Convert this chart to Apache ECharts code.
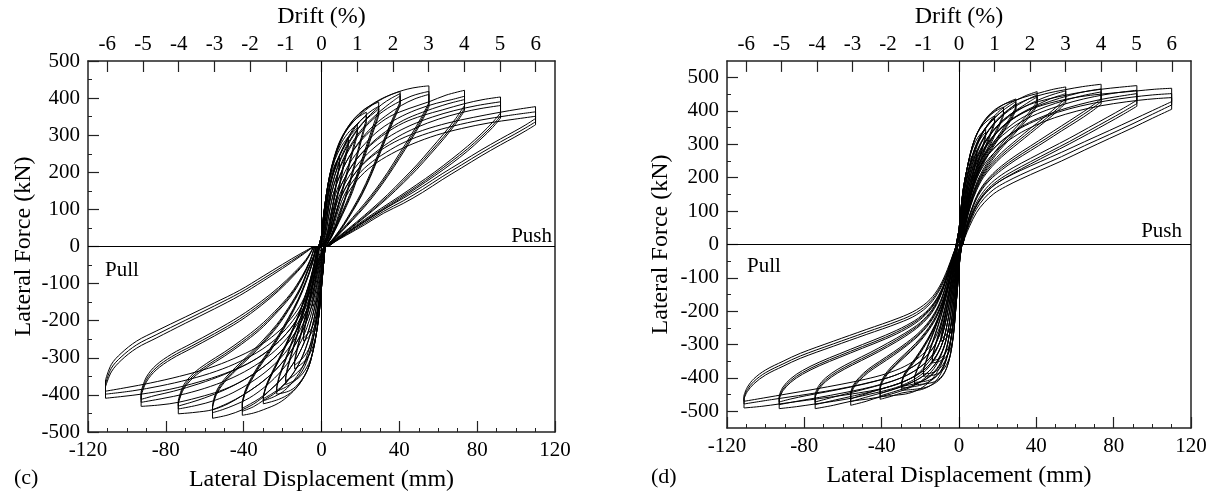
<!DOCTYPE html>
<html>
<head>
<meta charset="utf-8">
<title>Hysteresis (c) and (d)</title>
<script src="https://cdn.jsdelivr.net/npm/echarts@6.0.0/dist/echarts.min.js"></script>
<style>
  html, body { margin: 0; padding: 0; background: #fff; }
  #chart { width: 1215px; height: 497px; }
</style>
</head>
<body>
<div id="chart"></div>
<script>
// drift tick labels on the top axes (%), and mm per 1 % drift
var driftTicks = [-6, -5, -4, -3, -2, -1, 0, 1, 2, 3, 4, 5, 6];
var mmPerDrift = 18.35;
var dForceTicks = [-500, -400, -300, -200, -100, 0, 100, 200, 300, 400, 500];
var dForceMinor = [-450, -350, -250, -150, -50, 50, 150, 250, 350, 450];

// each level: list of cycles, cycle = [loading branch, unloading branch] as [mm, kN]
// ---- panel (c), push ----
var cPush025 = [
  [[[-2,-10],[0,30],[1,70],[2.2,112],[3.4,142],[4.6,155]], [[4.6,142],[3.6,106],[2.6,66],[1.6,30],[0.6,0]]]
];
var cPush05 = [
  [[[-2,-10],[0,30],[1,75],[2.5,135],[4.5,185],[7,222],[9.2,240]], [[9.2,222],[7.8,180],[6,120],[4.2,65],[2.5,25],[1,0]]],
  [[[-2,-10],[0.2,30],[1.3,75],[3,135],[5,180],[7.3,213],[9.2,230]], [[9.2,214],[7.8,172],[6,113],[4.2,60],[2.5,22],[1,0]]]
];
var cPush075 = [
  [[[-2,-10],[0,30],[1,80],[2.5,140],[4.5,190],[7,235],[10,268],[13.8,296]], [[13.8,278],[12,240],[10,190],[8,135],[6,85],[4,40],[2,8],[1,0]]],
  [[[-2,-10],[0.3,30],[1.5,80],[3.2,140],[5.3,188],[8,230],[11,262],[13.8,286]], [[13.8,268],[12,230],[10,180],[8,127],[6,79],[4,36],[2,6],[1,0]]]
];
var cPush1 = [
  [[[-2,-10],[0,30],[1,80],[2.5,140],[4.2,190],[6.5,232],[9.5,272],[13.5,305],[18.4,330]], [[18.4,310],[16,262],[13.5,210],[11,160],[8.5,110],[6,65],[3.5,25],[1.5,0]]],
  [[[-2,-10],[0.4,30],[1.6,80],[3.3,140],[5.3,188],[8,232],[11.5,270],[15,300],[18.4,320]], [[18.4,300],[16,253],[13.5,202],[11,153],[8.5,104],[6,61],[3.5,22],[1.5,0]]]
];
var cPush125 = [
  [[[-2,-10],[0,30],[1,80],[2.5,140],[4.2,190],[6.5,235],[9.5,278],[13,315],[18,345],[23,362]], [[23,342],[20.5,295],[18,245],[15,185],[12,130],[9,82],[6,42],[3,10],[1.5,0]]],
  [[[-2,-10],[0.5,30],[1.8,80],[3.5,140],[5.5,188],[8.5,235],[12,277],[16,315],[19.5,337],[23,352]], [[23,333],[20.5,286],[18,236],[15,177],[12,124],[9,77],[6,39],[3,8],[1.5,0]]]
];
var cPush16 = [
  [[[-2,-10],[0,30],[1,80],[2.5,140],[4.2,192],[6.5,240],[9.5,283],[13,318],[17,346],[22,370],[26,382],[29.4,389]], [[29.4,368],[26.5,325],[23,270],[19.5,215],[16,160],[12.5,115],[9,72],[5.5,32],[2.5,5],[1.5,0]]],
  [[[-2,-10],[0.5,30],[1.8,80],[3.6,140],[5.8,190],[9,240],[13,285],[17.5,322],[22,350],[26,367],[29.4,378]], [[29.4,358],[26.5,315],[23,262],[19.5,208],[16,154],[12.5,110],[9,69],[5.5,30],[2.5,4],[1.5,0]]],
  [[[-2,-10],[0.8,30],[2.3,80],[4.3,140],[6.8,190],[10,236],[14.5,282],[19,318],[23.5,345],[27,360],[29.4,371]], [[29.4,352],[26.5,308],[23,255],[19.5,201],[16,148],[12.5,105],[9,66],[5.5,28],[2.5,3],[1.5,0]]]
];
var cPush22 = [
  [[[-2,-10],[0,30],[1,80],[2.5,140],[4.2,192],[6.5,240],[9.5,285],[14,325],[19,355],[25,380],[30,396],[35,408],[40.4,418]], [[40.4,390],[37,350],[33,300],[29,248],[25,196],[20.5,145],[16,102],[11.5,62],[7,28],[3,4],[2,0]]],
  [[[-2,-10],[0.8,30],[2.2,80],[4.2,140],[6.8,192],[10,240],[14,282],[19,320],[25,355],[31,383],[36,400],[40.4,412]], [[40.4,384],[37,344],[33,294],[29,242],[25,190],[20.5,140],[16,98],[11.5,59],[7,26],[3,3],[2,0]]],
  [[[-2,-10],[1.2,30],[2.8,80],[5,140],[8,192],[11.5,240],[16,282],[21,318],[27,350],[33,377],[37,393],[40.4,406]], [[40.4,380],[37,339],[33,289],[29,237],[25,186],[20.5,136],[16,95],[11.5,57],[7,25],[3,2],[2,0]]]
];
var cPush3 = [
  [[[-2,-10],[0,30],[1,80],[2.5,140],[4.3,192],[6.8,242],[10,287],[15,328],[21,360],[28,388],[36,410],[44,424],[50,430],[55.2,433]], [[55.2,388],[51,345],[46,300],[40,250],[34,200],[28,155],[22,115],[16,78],[10,42],[5,12],[2.5,0]]],
  [[[-2,-10],[1.2,30],[2.8,80],[5,140],[8,192],[12,240],[17,285],[23,325],[30,358],[38,385],[46,405],[51,413],[55.2,418]], [[55.2,382],[51,338],[46,293],[40,243],[34,194],[28,150],[22,110],[16,74],[10,40],[5,11],[2.5,0]]],
  [[[-2,-10],[1.8,30],[3.6,80],[6,140],[9.5,192],[14,240],[19.5,283],[26,322],[33,352],[41,380],[48,398],[55.2,410]], [[55.2,376],[51,332],[46,287],[40,237],[34,189],[28,145],[22,106],[16,71],[10,38],[5,10],[2.5,0]]]
];
var cPush4 = [
  [[[-2,-10],[1.8,30],[3.6,80],[6,140],[9.5,192],[14,240],[20,283],[27,320],[35,350],[45,372],[55.2,390],[64,408],[73.5,421]], [[73.5,380],[69,345],[63,305],[56,262],[49,220],[42,182],[34,140],[26,102],[18,66],[10,32],[4,6],[3,0]]],
  [[[-2,-10],[2.4,30],[4.4,80],[7.2,140],[11,190],[16,237],[22.5,278],[30,315],[39,345],[49,369],[59,386],[67,396],[73.5,405]], [[73.5,372],[69,337],[63,297],[56,255],[49,214],[42,176],[34,135],[26,98],[18,63],[10,30],[4,5],[3,0]]],
  [[[-2,-10],[3,30],[5.2,80],[8.2,140],[12.5,190],[18,235],[25,275],[33,310],[42,340],[52,362],[62,380],[68,389],[73.5,396]], [[73.5,366],[69,331],[63,291],[56,249],[49,208],[42,171],[34,131],[26,95],[18,61],[10,29],[4,5],[3,0]]]
];
var cPush5 = [
  [[[-2,-10],[3,30],[5.2,80],[8.2,140],[12.5,190],[18,235],[25,272],[33,305],[42,333],[52,353],[62,368],[73.5,385],[83,396],[92,403]], [[92,360],[88,335],[82,303],[75,270],[67,236],[58,200],[49,167],[40,135],[31,104],[22,72],[14,42],[7,15],[3.5,0]]],
  [[[-2,-10],[3.6,30],[6,80],[9.4,140],[14,188],[20,230],[27.5,268],[36,300],[46,327],[57,349],[68,366],[80,380],[92,390]], [[92,352],[88,327],[82,296],[75,263],[67,230],[58,195],[49,162],[40,131],[31,100],[22,69],[14,40],[7,14],[3.5,0]]],
  [[[-2,-10],[4.2,30],[6.8,80],[10.5,138],[15.5,185],[22,227],[30,263],[39,295],[49,321],[60,343],[72,361],[82,372],[92,380]], [[92,346],[88,321],[82,290],[75,257],[67,224],[58,190],[49,158],[40,127],[31,97],[22,67],[14,39],[7,13],[3.5,0]]]
];
var cPush6 = [
  [[[-2,-10],[4.2,30],[6.8,80],[10.5,138],[15.5,185],[22,225],[30,258],[40,288],[52,313],[65,333],[78,348],[92,362],[101,370],[110,377]], [[110,345],[105,328],[99,310],[92,290],[82,260],[72,228],[62,196],[52,162],[42,130],[32,100],[22,66],[13,36],[6,12],[3.5,0]]],
  [[[-2,-10],[4.8,30],[7.6,80],[11.5,136],[17,182],[24,220],[33,253],[43,282],[55,306],[68,325],[82,341],[96,353],[110,363]], [[110,336],[105,320],[99,302],[92,282],[82,252],[72,220],[62,188],[52,154],[42,123],[32,95],[22,62],[13,33],[6,11],[3.5,0]]],
  [[[-2,-10],[5.4,30],[8.4,80],[12.5,134],[18.5,180],[26,217],[36,250],[47,277],[59,300],[72,318],[86,333],[99,343],[110,351]], [[110,328],[105,312],[99,294],[92,274],[82,244],[72,212],[62,180],[52,146],[42,116],[32,90],[22,58],[13,31],[6,10],[3.5,0]]]
];

// ---- panel (c), pull ----
var cPull025 = [
  [[[2,10],[1,-50],[0,-100],[-1.5,-135],[-3,-152],[-4.6,-160]], [[-4.6,-150],[-3.8,-115],[-2.8,-75],[-1.6,-35],[0,0]]]
];
var cPull05 = [
  [[[2,10],[1,-50],[0,-110],[-1.5,-170],[-3.5,-215],[-6,-240],[-9.2,-255]], [[-9.2,-240],[-8,-205],[-6.5,-165],[-4.8,-115],[-3,-62],[-1,0]]],
  [[[2,10],[1,-50],[-0.3,-110],[-2,-165],[-4,-208],[-6.5,-232],[-9.2,-246]], [[-9.2,-234],[-8,-200],[-6.5,-160],[-4.8,-111],[-3,-59],[-1,0]]]
];
var cPull075 = [
  [[[2,10],[1,-50],[0,-110],[-1,-170],[-2.5,-230],[-5,-278],[-8.5,-308],[-13.8,-330]], [[-13.8,-312],[-12.5,-280],[-10.5,-238],[-8,-185],[-5.5,-125],[-3.5,-70],[-1,0]]],
  [[[2,10],[1,-50],[-0.3,-110],[-1.6,-168],[-3.3,-225],[-6,-270],[-9.5,-300],[-13.8,-320]], [[-13.8,-306],[-12.5,-274],[-10.5,-232],[-8,-180],[-5.5,-121],[-3.5,-67],[-1,0]]]
];
var cPull1 = [
  [[[2,10],[1,-50],[0,-110],[-1,-170],[-2.5,-230],[-4.5,-285],[-7.5,-325],[-12,-355],[-18.4,-372]], [[-18.4,-355],[-17,-322],[-15,-285],[-12.5,-240],[-9.5,-185],[-6.5,-125],[-4,-65],[-1.5,0]]],
  [[[2,10],[1,-50],[-0.4,-110],[-1.7,-168],[-3.4,-226],[-5.6,-278],[-9,-318],[-13.5,-345],[-18.4,-362]], [[-18.4,-349],[-17,-316],[-15,-279],[-12.5,-235],[-9.5,-180],[-6.5,-121],[-4,-62],[-1.5,0]]]
];
var cPull125 = [
  [[[2,10],[1,-50],[0,-110],[-1,-170],[-2.5,-230],[-4.5,-285],[-7,-330],[-11,-365],[-16,-388],[-23,-398]], [[-23,-382],[-21.5,-350],[-19,-315],[-16,-272],[-12.5,-222],[-9,-165],[-6,-105],[-3.5,-50],[-1.5,0]]],
  [[[2,10],[1,-50],[-0.4,-110],[-1.7,-168],[-3.4,-226],[-5.8,-280],[-8.6,-323],[-13,-358],[-18,-378],[-23,-390]], [[-23,-377],[-21.5,-345],[-19,-310],[-16,-267],[-12.5,-218],[-9,-161],[-6,-102],[-3.5,-48],[-1.5,0]]]
];
var cPull16 = [
  [[[2,10],[1,-50],[0,-110],[-1,-170],[-2.5,-230],[-4.5,-285],[-7,-330],[-11,-368],[-16,-395],[-22,-412],[-29.9,-424]], [[-29.9,-404],[-28.5,-375],[-26,-345],[-22.5,-308],[-18.5,-265],[-14.5,-218],[-10.5,-165],[-7,-110],[-4.5,-62],[-2,0]]],
  [[[2,10],[1,-50],[-0.5,-110],[-2,-168],[-4,-226],[-6.5,-278],[-9.5,-322],[-14,-360],[-19,-388],[-24,-404],[-29.9,-416]], [[-29.9,-406],[-28.5,-378],[-26,-348],[-22.5,-311],[-18.5,-268],[-14.5,-221],[-10.5,-168],[-7,-112],[-4.5,-64],[-2,0]]],
  [[[2,10],[0.8,-50],[-1,-110],[-2.8,-166],[-5,-222],[-8,-272],[-11.5,-315],[-16,-352],[-21,-380],[-25.5,-397],[-29.9,-410]], [[-29.9,-404],[-28.5,-380],[-26,-351],[-22.5,-314],[-18.5,-271],[-14.5,-224],[-10.5,-170],[-7,-114],[-4.5,-65],[-2,0]]]
];
var cPull22 = [
  [[[2,10],[1,-50],[0,-110],[-1,-170],[-2.5,-230],[-4.5,-285],[-7,-330],[-11,-368],[-16,-398],[-22,-422],[-29.9,-440],[-35,-449],[-40.7,-455]], [[-40.7,-418],[-39,-385],[-36,-353],[-32,-318],[-27,-280],[-22,-238],[-17,-192],[-12,-142],[-8,-92],[-5,-48],[-2.5,0]]],
  [[[2,10],[0.7,-50],[-1,-110],[-2.8,-168],[-5.2,-225],[-8.2,-276],[-12,-320],[-17,-360],[-23,-392],[-29.9,-415],[-35,-432],[-40.7,-444]], [[-40.7,-421],[-39,-389],[-36,-357],[-32,-322],[-27,-284],[-22,-242],[-17,-196],[-12,-145],[-8,-95],[-5,-50],[-2.5,0]]],
  [[[2,10],[0.4,-50],[-1.5,-110],[-3.6,-166],[-6.4,-222],[-10,-272],[-14.5,-315],[-20,-354],[-26,-385],[-32,-410],[-36.5,-424],[-40.7,-436]], [[-40.7,-424],[-39,-393],[-36,-361],[-32,-326],[-27,-288],[-22,-246],[-17,-200],[-12,-148],[-8,-97],[-5,-52],[-2.5,0]]]
];
var cPull3 = [
  [[[2,10],[0.4,-50],[-1.5,-110],[-3.6,-166],[-6.4,-222],[-10,-272],[-14.5,-315],[-20,-354],[-26,-385],[-33,-418],[-40.7,-440],[-48,-454],[-56,-463]], [[-56,-427],[-54,-390],[-50,-358],[-44,-325],[-37,-290],[-30,-252],[-23,-210],[-17,-165],[-11,-112],[-7,-62],[-4,-25],[-3,0]]],
  [[[2,10],[0,-50],[-2,-110],[-4.4,-165],[-7.5,-218],[-11.5,-266],[-16.5,-308],[-22.5,-346],[-29.5,-380],[-37,-408],[-45,-428],[-51,-440],[-56,-448]], [[-56,-431],[-54,-395],[-50,-363],[-44,-330],[-37,-295],[-30,-257],[-23,-214],[-17,-169],[-11,-115],[-7,-64],[-4,-26],[-3,0]]],
  [[[2,10],[-0.4,-50],[-2.6,-110],[-5.2,-163],[-8.6,-214],[-13,-260],[-18.5,-302],[-25,-340],[-32.5,-373],[-40.5,-401],[-48,-422],[-56,-440]], [[-56,-434],[-54,-399],[-50,-367],[-44,-334],[-37,-299],[-30,-261],[-23,-218],[-17,-172],[-11,-118],[-7,-66],[-4,-27],[-3,0]]]
];
var cPull4 = [
  [[[2,10],[-0.4,-50],[-2.6,-110],[-5.2,-163],[-8.6,-214],[-13,-260],[-18.5,-302],[-25,-340],[-32.5,-373],[-40.5,-401],[-48,-424],[-56,-440],[-65,-447],[-73.6,-451]], [[-73.6,-415],[-71,-375],[-66,-343],[-59,-315],[-50,-285],[-41,-252],[-32,-215],[-24,-175],[-16,-128],[-10,-80],[-6,-38],[-3.5,0]]],
  [[[2,10],[-0.8,-50],[-3.2,-110],[-6,-162],[-9.8,-212],[-14.6,-257],[-20.6,-298],[-28,-335],[-36.5,-367],[-45.5,-394],[-55,-415],[-64,-428],[-73.6,-438]], [[-73.6,-420],[-71,-381],[-66,-349],[-59,-321],[-50,-291],[-41,-258],[-32,-221],[-24,-180],[-16,-132],[-10,-83],[-6,-40],[-3.5,0]]],
  [[[2,10],[-1.2,-50],[-3.8,-110],[-6.8,-160],[-11,-209],[-16.2,-253],[-22.8,-293],[-31,-329],[-40,-360],[-50,-387],[-60,-408],[-67,-420],[-73.6,-430]], [[-73.6,-424],[-71,-386],[-66,-354],[-59,-326],[-50,-296],[-41,-263],[-32,-226],[-24,-184],[-16,-136],[-10,-86],[-6,-42],[-3.5,0]]]
];
var cPull5 = [
  [[[2,10],[-1.2,-50],[-3.8,-110],[-6.8,-160],[-11,-209],[-16.2,-253],[-22.8,-293],[-31,-329],[-40,-360],[-50,-385],[-60,-402],[-73.6,-420],[-83,-427],[-92.7,-431]], [[-92.7,-391],[-90,-352],[-85,-320],[-77,-290],[-67,-262],[-55,-228],[-42,-188],[-31,-148],[-22,-110],[-14,-70],[-8,-35],[-4,0]]],
  [[[2,10],[-1.6,-50],[-4.4,-108],[-7.6,-158],[-12.2,-206],[-18,-249],[-25.5,-288],[-34.5,-322],[-45,-352],[-57,-377],[-70,-397],[-82,-410],[-92.7,-420]], [[-92.7,-397],[-90,-359],[-85,-327],[-77,-297],[-67,-269],[-55,-235],[-42,-195],[-31,-154],[-22,-115],[-14,-74],[-8,-38],[-4,0]]],
  [[[2,10],[-2,-50],[-5,-106],[-8.4,-156],[-13.4,-203],[-19.8,-245],[-28,-283],[-38,-316],[-50,-345],[-63,-370],[-76,-390],[-85,-401],[-92.7,-412]], [[-92.7,-402],[-90,-365],[-85,-333],[-77,-303],[-67,-275],[-55,-241],[-42,-201],[-31,-159],[-22,-119],[-14,-77],[-8,-40],[-4,0]]]
];
var cPull6 = [
  [[[2,10],[-2,-50],[-5,-106],[-8.4,-156],[-13.4,-203],[-19.8,-245],[-28,-283],[-38,-316],[-50,-343],[-63,-365],[-78,-385],[-92.7,-398],[-102,-404],[-111,-409]], [[-111,-360],[-108,-318],[-103,-288],[-95,-255],[-85,-228],[-70,-190],[-55,-152],[-42,-118],[-30,-80],[-20,-48],[-11,-20],[-4,0]]],
  [[[2,10],[-2.4,-50],[-5.6,-104],[-9.2,-153],[-14.6,-199],[-21.6,-240],[-30.5,-277],[-41.5,-309],[-54,-336],[-68,-358],[-83,-376],[-97,-389],[-111,-398]], [[-111,-370],[-108,-328],[-103,-298],[-95,-265],[-85,-238],[-70,-199],[-55,-160],[-42,-125],[-30,-87],[-20,-54],[-11,-24],[-4,0]]],
  [[[2,10],[-2.8,-50],[-6.2,-102],[-10,-150],[-15.8,-195],[-23.4,-235],[-33,-271],[-45,-302],[-58,-328],[-73,-350],[-88,-368],[-100,-380],[-111,-390]], [[-111,-378],[-108,-338],[-103,-307],[-95,-274],[-85,-247],[-70,-207],[-55,-168],[-42,-132],[-30,-93],[-20,-59],[-11,-27],[-4,0]]]
];

// ---- panel (d), push ----
var dPush025 = [
  [[[-2,-16],[0,45],[1,100],[2,140],[3.2,162],[4.6,172]], [[4.6,160],[3.8,125],[2.8,85],[1.8,45],[0.8,10],[0.5,0]]]
];
var dPush05 = [
  [[[-2,-16],[0,45],[1,105],[2.2,165],[4,222],[6,258],[9.2,282]], [[9.2,268],[8,235],[6.5,192],[5,145],[3.5,95],[2,42],[0.8,0]]],
  [[[-2,-16],[0.3,45],[1.4,105],[2.7,162],[4.6,215],[6.6,250],[9.2,272]], [[9.2,260],[8,228],[6.5,186],[5,140],[3.5,91],[2,40],[0.8,0]]]
];
var dPush075 = [
  [[[-2,-16],[0,45],[1,105],[2.2,165],[4,222],[6,270],[8.5,308],[11,330],[13.8,345]], [[13.8,330],[12.5,300],[10.5,262],[8.5,218],[6.3,165],[4.3,110],[2.5,55],[1,0]]],
  [[[-2,-16],[0.3,45],[1.4,105],[2.7,163],[4.6,218],[6.8,263],[9.3,300],[11.7,322],[13.8,336]], [[13.8,322],[12.5,293],[10.5,256],[8.5,212],[6.3,160],[4.3,106],[2.5,52],[1,0]]]
];
var dPush1 = [
  [[[-2,-16],[0,45],[1,105],[2.2,165],[4,222],[6,275],[8.3,318],[11,348],[14.5,370],[18.4,385]], [[18.4,368],[17,345],[15,315],[12.5,275],[10,235],[7.5,185],[5.2,130],[3.2,70],[1.5,15],[1,0]]],
  [[[-2,-16],[0.3,45],[1.4,105],[2.8,163],[4.8,218],[7,268],[9.5,308],[12.5,340],[15.5,362],[18.4,376]], [[18.4,361],[17,338],[15,308],[12.5,268],[10,229],[7.5,180],[5.2,126],[3.2,67],[1.5,14],[1,0]]]
];
var dPush125 = [
  [[[-2,-16],[0,45],[1,105],[2.2,165],[4,222],[6,275],[8.3,318],[11,350],[14.5,378],[18.5,398],[23,412]], [[23,392],[21.5,370],[19.5,345],[17,315],[14,280],[11,240],[8.5,200],[6,150],[4,100],[2,40],[1,0]]],
  [[[-2,-16],[0.3,45],[1.4,105],[2.8,163],[4.8,218],[7,268],[9.8,310],[13,343],[16.5,370],[20,388],[23,402]], [[23,385],[21.5,363],[19.5,338],[17,308],[14,273],[11,234],[8.5,194],[6,145],[4,96],[2,38],[1,0]]]
];
var dPush16 = [
  [[[-2,-16],[0,45],[1,105],[2.2,165],[4,222],[6,275],[8.3,318],[11,350],[14.5,378],[20,408],[25,425],[29.4,436]], [[29.4,412],[27.5,390],[25,367],[22,340],[18.5,310],[15,278],[12,245],[9,205],[6.5,160],[4.2,108],[2.3,50],[1,0]]],
  [[[-2,-16],[0.4,45],[1.5,105],[2.9,163],[5,218],[7.3,268],[10,310],[13.5,345],[17.5,373],[22,398],[26,415],[29.4,428]], [[29.4,406],[27.5,384],[25,361],[22,334],[18.5,304],[15,272],[12,239],[9,200],[6.5,156],[4.2,105],[2.3,48],[1,0]]],
  [[[-2,-16],[0.7,45],[1.9,105],[3.5,162],[5.7,215],[8.2,264],[11.2,305],[15,340],[19.5,370],[24,395],[27,410],[29.4,422]], [[29.4,402],[27.5,379],[25,356],[22,329],[18.5,299],[15,267],[12,234],[9,195],[6.5,152],[4.2,102],[2.3,46],[1,0]]]
];
var dPush22 = [
  [[[-2,-16],[0,45],[1,105],[2.2,165],[4,222],[6,275],[8.3,318],[11,352],[14.5,382],[19,406],[24,422],[29.4,432],[35,447],[40.4,458]], [[40.4,428],[37.5,405],[34,380],[30,354],[25.5,325],[21,295],[17,265],[13,230],[9.5,190],[6.5,142],[4,88],[2,30],[1,0]]],
  [[[-2,-16],[0.7,45],[1.9,105],[3.5,162],[5.7,215],[8.2,264],[11.5,305],[15.5,342],[20.5,375],[26,402],[31,420],[36,436],[40.4,448]], [[40.4,420],[37.5,397],[34,372],[30,346],[25.5,317],[21,288],[17,258],[13,224],[9.5,185],[6.5,138],[4,85],[2,29],[1,0]]],
  [[[-2,-16],[1,45],[2.3,105],[4,160],[6.3,212],[9,260],[12.5,300],[17,337],[22,368],[28,396],[33,415],[37,430],[40.4,442]], [[40.4,415],[37.5,391],[34,366],[30,340],[25.5,311],[21,282],[17,252],[13,219],[9.5,181],[6.5,135],[4,83],[2,28],[1,0]]]
];
var dPush3 = [
  [[[-2,-16],[0.7,45],[1.9,105],[3.5,164],[5.5,220],[8,272],[11,318],[15,360],[20,395],[26,422],[33,440],[40.4,452],[48,464],[55.2,472]], [[55.2,438],[51,415],[46,390],[40,362],[34,334],[28,305],[22,275],[17,245],[12.5,210],[9,170],[6,122],[3.5,65],[1.5,0]]],
  [[[-2,-16],[1,45],[2.3,105],[4,160],[6.3,212],[9.2,260],[13,302],[17.5,338],[23,370],[29.5,398],[37,422],[44,440],[50,452],[55.2,460]], [[55.2,430],[51,407],[46,382],[40,354],[34,326],[28,298],[22,268],[17,239],[12.5,205],[9,165],[6,118],[3.5,62],[1.5,0]]],
  [[[-2,-16],[1.3,45],[2.7,105],[4.6,158],[7,210],[10,257],[14,298],[19,334],[25,366],[32,393],[40,417],[47,436],[52,446],[55.2,452]], [[55.2,424],[51,400],[46,375],[40,347],[34,319],[28,291],[22,262],[17,233],[12.5,200],[9,161],[6,115],[3.5,60],[1.5,0]]]
];
var dPush4 = [
  [[[-2,-16],[1,45],[2.3,105],[4,163],[6.3,217],[9,268],[12.5,315],[17,356],[22.5,390],[29,417],[36.5,437],[45,452],[55.2,464],[64,473],[73.5,480]], [[73.5,436],[68,412],[61,385],[53,355],[45,325],[37,295],[29,265],[22,235],[16,203],[11,165],[7.5,122],[4.5,70],[2.5,25],[1.5,0]]],
  [[[-2,-16],[1.3,45],[2.7,105],[4.6,158],[7,210],[10.2,257],[14.5,298],[19.5,334],[25.5,366],[33,394],[42,418],[52,438],[62,454],[68,461],[73.5,466]], [[73.5,428],[68,404],[61,377],[53,347],[45,317],[37,288],[29,258],[22,229],[16,198],[11,161],[7.5,119],[4.5,68],[2.5,24],[1.5,0]]],
  [[[-2,-16],[1.6,45],[3.1,105],[5.2,156],[7.8,207],[11.2,253],[16,294],[21.5,330],[28,362],[36,390],[45,413],[55,432],[64,446],[73.5,457]], [[73.5,420],[68,396],[61,369],[53,340],[45,310],[37,281],[29,252],[22,223],[16,193],[11,157],[7.5,116],[4.5,66],[2.5,23],[1.5,0]]]
];
var dPush5 = [
  [[[-2,-16],[1.3,45],[2.7,105],[4.6,162],[7,215],[10,265],[14,310],[19,350],[25,383],[32,408],[41,428],[51,442],[62,455],[73.5,465],[83,471],[92,476]], [[92,432],[85,408],[77,382],[67,350],[57,318],[47,288],[37,258],[28,230],[20,200],[14,168],[9.5,130],[6,85],[3.5,40],[2,0]]],
  [[[-2,-16],[1.6,45],[3.1,105],[5.2,156],[7.8,207],[11.4,252],[16.5,292],[22.5,327],[29.5,358],[38,385],[48,408],[59,428],[70,443],[81,454],[92,462]], [[92,422],[85,398],[77,372],[67,340],[57,308],[47,278],[37,248],[28,220],[20,191],[14,160],[9.5,123],[6,80],[3.5,37],[2,0]]],
  [[[-2,-16],[1.9,45],[3.5,105],[5.8,154],[8.6,204],[12.5,248],[18,288],[24.5,322],[32,352],[41,378],[51,400],[62,419],[73,434],[83,444],[92,452]], [[92,414],[85,390],[77,364],[67,332],[57,301],[47,271],[37,241],[28,213],[20,185],[14,155],[9.5,119],[6,77],[3.5,35],[2,0]]]
];
var dPush6 = [
  [[[-2,-16],[1.6,45],[3.1,105],[5.2,160],[7.8,212],[11,260],[15.5,305],[21,345],[28,377],[36,402],[46,422],[57,437],[68,447],[80,454],[92,460],[101,465],[110,468]], [[110,428],[100,401],[90,374],[78,342],[65,308],[53,276],[42,248],[32,222],[24,199],[18,177],[13,150],[9,116],[5.5,70],[3,28],[2,0]]],
  [[[-2,-16],[1.9,45],[3.5,105],[5.8,154],[8.6,204],[12.5,248],[18,287],[24.5,320],[32,349],[41,374],[51,396],[63,415],[76,430],[89,441],[100,448],[110,452]], [[110,418],[100,390],[90,362],[78,330],[65,296],[53,263],[42,235],[32,209],[24,186],[18,165],[13,138],[9,106],[5.5,63],[3,24],[2,0]]],
  [[[-2,-16],[2.2,45],[3.9,105],[6.4,152],[9.4,201],[13.6,244],[19.5,282],[26.5,315],[34.5,343],[44,368],[55,390],[67,408],[80,422],[93,432],[102,437],[110,440]], [[110,405],[100,378],[90,350],[78,318],[65,283],[53,250],[42,222],[32,196],[24,173],[18,152],[13,125],[9,95],[5.5,55],[3,20],[2,0]]]
];

// ---- panel (d), pull ----
var dPull025 = [
  [[[2,16],[0.5,-40],[-0.5,-100],[-1.6,-145],[-3,-168],[-4.6,-175]], [[-4.6,-165],[-3.8,-130],[-2.8,-90],[-1.8,-50],[-0.8,-12],[-0.3,0]]]
];
var dPull05 = [
  [[[2,16],[0.5,-40],[-0.5,-110],[-1.5,-180],[-3,-240],[-5.5,-275],[-9.2,-290]], [[-9.2,-277],[-8,-245],[-6.5,-200],[-5,-150],[-3.4,-95],[-1.8,-40],[-0.5,0]]],
  [[[2,16],[0.3,-40],[-0.8,-108],[-2,-175],[-3.6,-232],[-6,-266],[-9.2,-282]], [[-9.2,-271],[-8,-240],[-6.5,-196],[-5,-147],[-3.4,-93],[-1.8,-39],[-0.5,0]]]
];
var dPull075 = [
  [[[2,16],[0.5,-40],[-0.5,-110],[-1.5,-180],[-2.5,-250],[-4,-305],[-6.5,-335],[-10,-350],[-13.8,-355]], [[-13.8,-340],[-12.5,-310],[-10.5,-270],[-8.2,-220],[-6,-165],[-4,-105],[-2,-45],[-0.5,0]]],
  [[[2,16],[0.3,-40],[-0.8,-108],[-2,-176],[-3.2,-244],[-4.8,-297],[-7.3,-328],[-10.5,-343],[-13.8,-348]], [[-13.8,-335],[-12.5,-305],[-10.5,-265],[-8.2,-216],[-6,-162],[-4,-103],[-2,-44],[-0.5,0]]]
];
var dPull1 = [
  [[[2,16],[0.5,-40],[-0.5,-110],[-1.5,-180],[-2.5,-250],[-3.8,-310],[-5.8,-352],[-9,-380],[-13.5,-392],[-18.4,-395]], [[-18.4,-378],[-17,-352],[-15,-318],[-12.5,-275],[-9.5,-220],[-6.5,-155],[-4,-90],[-1.5,-20],[-0.5,0]]],
  [[[2,16],[0.3,-40],[-0.8,-108],[-2,-176],[-3.2,-244],[-4.7,-302],[-6.8,-344],[-10,-372],[-14.2,-385],[-18.4,-388]], [[-18.4,-373],[-17,-347],[-15,-313],[-12.5,-271],[-9.5,-216],[-6.5,-152],[-4,-88],[-1.5,-19],[-0.5,0]]]
];
var dPull125 = [
  [[[2,16],[0.5,-40],[-0.5,-110],[-1.5,-180],[-2.5,-250],[-3.8,-310],[-5.5,-355],[-8,-388],[-11.5,-408],[-16.5,-417],[-23,-420]], [[-23,-400],[-21.5,-375],[-19,-345],[-16,-305],[-12.5,-255],[-9,-195],[-6,-130],[-3.5,-65],[-1,0]]],
  [[[2,16],[0.3,-40],[-0.8,-108],[-2,-176],[-3.2,-244],[-4.7,-303],[-6.7,-347],[-9.4,-380],[-13,-400],[-17.5,-410],[-23,-413]], [[-23,-396],[-21.5,-371],[-19,-341],[-16,-301],[-12.5,-251],[-9,-192],[-6,-128],[-3.5,-63],[-1,0]]]
];
var dPull16 = [
  [[[2,16],[0.5,-40],[-0.5,-110],[-1.5,-180],[-2.5,-250],[-3.8,-310],[-5.5,-355],[-8,-390],[-11.5,-412],[-17,-428],[-23,-434],[-29.6,-437]], [[-29.6,-410],[-28.5,-390],[-26,-368],[-22.5,-340],[-18.5,-305],[-14.5,-265],[-10.5,-215],[-7,-155],[-4.3,-92],[-2,-30],[-0.5,0]]],
  [[[2,16],[0.2,-40],[-0.9,-108],[-2.1,-176],[-3.3,-244],[-4.8,-302],[-6.8,-346],[-9.6,-380],[-13.5,-404],[-19,-420],[-24.5,-427],[-29.6,-430]], [[-29.6,-413],[-28.5,-393],[-26,-371],[-22.5,-343],[-18.5,-308],[-14.5,-268],[-10.5,-218],[-7,-157],[-4.3,-94],[-2,-31],[-0.5,0]]],
  [[[2,16],[-0.1,-40],[-1.3,-106],[-2.7,-172],[-4.1,-238],[-5.8,-295],[-8,-339],[-11.2,-373],[-15.5,-398],[-21,-414],[-25.5,-421],[-29.6,-425]], [[-29.6,-416],[-28.5,-397],[-26,-375],[-22.5,-347],[-18.5,-312],[-14.5,-271],[-10.5,-221],[-7,-160],[-4.3,-96],[-2,-32],[-0.5,0]]]
];
var dPull22 = [
  [[[2,16],[0.2,-40],[-0.9,-108],[-2.1,-176],[-3.3,-244],[-4.8,-304],[-6.8,-350],[-9.5,-388],[-13,-415],[-18,-432],[-24,-440],[-29.6,-445],[-35,-455],[-40.8,-464]], [[-40.8,-423],[-39.5,-402],[-37,-380],[-33,-355],[-28,-328],[-22.5,-297],[-17,-260],[-12,-215],[-8,-160],[-5,-98],[-2.5,-35],[-1,0]]],
  [[[2,16],[-0.1,-40],[-1.3,-106],[-2.7,-172],[-4.1,-238],[-5.8,-295],[-8.2,-338],[-11.5,-372],[-16,-398],[-22,-418],[-28,-431],[-34,-442],[-40.8,-454]], [[-40.8,-428],[-39.5,-407],[-37,-385],[-33,-360],[-28,-333],[-22.5,-302],[-17,-264],[-12,-219],[-8,-163],[-5,-100],[-2.5,-36],[-1,0]]],
  [[[2,16],[-0.4,-40],[-1.7,-104],[-3.3,-168],[-4.9,-232],[-6.8,-288],[-9.5,-331],[-13.2,-365],[-18,-392],[-24,-412],[-30,-426],[-35.5,-437],[-40.8,-447]], [[-40.8,-432],[-39.5,-411],[-37,-389],[-33,-364],[-28,-337],[-22.5,-306],[-17,-268],[-12,-222],[-8,-166],[-5,-102],[-2.5,-37],[-1,0]]]
];
var dPull3 = [
  [[[2,16],[-0.1,-40],[-1.3,-106],[-2.7,-172],[-4.1,-238],[-5.8,-297],[-8,-342],[-11,-380],[-15,-410],[-20,-432],[-26,-446],[-33,-452],[-40.8,-457],[-48,-470],[-56,-482]], [[-56,-442],[-54.5,-420],[-51.5,-398],[-47,-374],[-41,-350],[-34,-323],[-27,-294],[-20,-260],[-14,-218],[-9.5,-168],[-6,-105],[-3,-38],[-1,0]]],
  [[[2,16],[-0.4,-40],[-1.7,-104],[-3.3,-168],[-4.9,-232],[-6.8,-288],[-9.5,-331],[-13.2,-365],[-18,-392],[-24.5,-414],[-31.5,-430],[-39,-443],[-47,-456],[-56,-471]], [[-56,-447],[-54.5,-425],[-51.5,-403],[-47,-379],[-41,-355],[-34,-328],[-27,-299],[-20,-264],[-14,-222],[-9.5,-171],[-6,-107],[-3,-39],[-1,0]]],
  [[[2,16],[-0.7,-40],[-2.1,-102],[-3.9,-164],[-5.7,-226],[-7.8,-281],[-10.8,-324],[-14.9,-358],[-20,-385],[-27,-407],[-35,-424],[-43,-438],[-50,-451],[-56,-463]], [[-56,-451],[-54.5,-430],[-51.5,-408],[-47,-384],[-41,-360],[-34,-333],[-27,-303],[-20,-268],[-14,-226],[-9.5,-174],[-6,-109],[-3,-40],[-1,0]]]
];
var dPull4 = [
  [[[2,16],[-0.4,-40],[-1.7,-104],[-3.3,-168],[-4.9,-232],[-6.8,-290],[-9.5,-335],[-13,-372],[-18,-402],[-24,-425],[-31,-441],[-39,-454],[-47,-463],[-56,-470],[-65,-482],[-74.4,-492]], [[-74.4,-447],[-72.5,-423],[-69,-400],[-63,-375],[-55,-350],[-46,-324],[-37,-296],[-28,-266],[-20,-234],[-14,-196],[-9.5,-148],[-6,-90],[-3,-32],[-1,0]]],
  [[[2,16],[-0.7,-40],[-2.1,-102],[-3.9,-164],[-5.7,-226],[-7.8,-281],[-10.8,-324],[-15,-358],[-20.5,-386],[-27.5,-408],[-35.5,-425],[-44.5,-440],[-54,-453],[-64,-466],[-74.4,-480]], [[-74.4,-453],[-72.5,-429],[-69,-406],[-63,-381],[-55,-356],[-46,-330],[-37,-302],[-28,-271],[-20,-238],[-14,-200],[-9.5,-151],[-6,-92],[-3,-33],[-1,0]]],
  [[[2,16],[-1,-40],[-2.5,-100],[-4.5,-160],[-6.5,-220],[-8.8,-274],[-12.1,-317],[-16.8,-351],[-23,-379],[-30.5,-401],[-39,-418],[-48.5,-433],[-58,-447],[-66,-459],[-74.4,-472]], [[-74.4,-458],[-72.5,-434],[-69,-411],[-63,-386],[-55,-361],[-46,-335],[-37,-307],[-28,-276],[-20,-242],[-14,-204],[-9.5,-154],[-6,-94],[-3,-34],[-1,0]]]
];
var dPull5 = [
  [[[2,16],[-0.7,-40],[-2.1,-102],[-3.9,-164],[-5.7,-226],[-7.8,-281],[-10.8,-326],[-14.8,-362],[-20,-392],[-27,-416],[-35,-433],[-45,-447],[-55,-460],[-65,-470],[-74.4,-478],[-84,-486],[-93,-492]], [[-93,-452],[-91,-427],[-87,-402],[-81,-378],[-72,-352],[-62,-328],[-50,-300],[-38,-272],[-27,-242],[-19,-212],[-13,-175],[-8.5,-128],[-5,-72],[-2.5,-25],[-1,0]]],
  [[[2,16],[-1,-40],[-2.5,-100],[-4.5,-160],[-6.5,-220],[-8.8,-274],[-12.1,-317],[-16.8,-351],[-23,-379],[-30.5,-401],[-39.5,-418],[-50,-433],[-61,-446],[-72,-458],[-83,-469],[-93,-480]], [[-93,-458],[-91,-433],[-87,-408],[-81,-384],[-72,-358],[-62,-334],[-50,-306],[-38,-278],[-27,-247],[-19,-216],[-13,-178],[-8.5,-131],[-5,-74],[-2.5,-26],[-1,0]]],
  [[[2,16],[-1.3,-40],[-2.9,-98],[-5.1,-156],[-7.3,-214],[-9.8,-267],[-13.4,-310],[-18.6,-344],[-25.5,-372],[-34,-394],[-44,-411],[-55,-426],[-67,-440],[-79,-453],[-87,-463],[-93,-472]], [[-93,-463],[-91,-438],[-87,-413],[-81,-389],[-72,-363],[-62,-339],[-50,-311],[-38,-283],[-27,-252],[-19,-220],[-13,-181],[-8.5,-133],[-5,-75],[-2.5,-26],[-1,0]]]
];
var dPull6 = [
  [[[2,16],[-1,-40],[-2.5,-100],[-4.5,-160],[-6.5,-220],[-8.8,-274],[-12,-320],[-16.5,-358],[-22,-390],[-30,-415],[-40,-432],[-52,-445],[-65,-456],[-79,-467],[-93,-478],[-102,-485],[-111.2,-490]], [[-111.2,-452],[-109.5,-428],[-106,-402],[-100,-376],[-91,-350],[-82,-326],[-65,-290],[-48,-255],[-31,-220],[-22,-196],[-15,-165],[-10,-125],[-6,-75],[-3,-28],[-1,0]]],
  [[[2,16],[-1.3,-40],[-2.9,-98],[-5.1,-156],[-7.3,-214],[-9.8,-267],[-13.4,-310],[-18.6,-344],[-25.5,-372],[-34,-394],[-44.5,-411],[-56,-426],[-69,-440],[-83,-453],[-97,-465],[-111.2,-478]], [[-111.2,-458],[-109.5,-435],[-106,-410],[-100,-384],[-91,-358],[-82,-334],[-65,-298],[-48,-263],[-31,-228],[-22,-204],[-15,-172],[-10,-131],[-6,-80],[-3,-30],[-1,0]]],
  [[[2,16],[-1.6,-40],[-3.3,-96],[-5.7,-152],[-8.1,-208],[-10.8,-260],[-14.7,-303],[-20.4,-337],[-28,-365],[-37.5,-387],[-48.5,-404],[-61,-419],[-75,-434],[-89,-448],[-101,-460],[-111.2,-470]], [[-111.2,-462],[-109.5,-441],[-106,-417],[-100,-391],[-91,-365],[-82,-341],[-65,-305],[-48,-270],[-31,-235],[-22,-211],[-15,-178],[-10,-136],[-6,-84],[-3,-32],[-1,0]]]
];

var cLevels = [cPush025, cPush05, cPush075, cPush1, cPush125, cPush16, cPush22, cPush3, cPush4, cPush5, cPush6,
               cPull025, cPull05, cPull075, cPull1, cPull125, cPull16, cPull22, cPull3, cPull4, cPull5, cPull6];
var dLevels = [dPush025, dPush05, dPush075, dPush1, dPush125, dPush16, dPush22, dPush3, dPush4, dPush5, dPush6,
               dPull025, dPull05, dPull075, dPull1, dPull125, dPull16, dPull22, dPull3, dPull4, dPull5, dPull6];

var FONT = 'Liberation Serif';
var AXIS_COLOR = '#222';
var series = [];

function curve(data, xi, yi, smooth) {
  return {
    type: 'line', xAxisIndex: xi, yAxisIndex: yi, data: data,
    smooth: smooth, symbol: 'none', silent: true, z: 3,
    lineStyle: { color: '#000', width: 1 }
  };
}

function addLevels(levels, xi, yi) {
  levels.forEach(function (level) {
    level.forEach(function (cycle) {
      var load = cycle[0], unload = cycle[1];
      series.push(curve(load, xi, yi, 0.35));
      series.push(curve([load[load.length - 1], unload[0]], xi, yi, false));
      series.push(curve(unload, xi, yi, 0.35));
    });
  });
}
addLevels(cLevels, 0, 0);
addLevels(dLevels, 2, 2);

// zero reference lines
[[0, 0], [2, 2]].forEach(function (ax) {
  series.push({
    type: 'line', xAxisIndex: ax[0], yAxisIndex: ax[1], data: [], z: 2,
    markLine: {
      silent: true, symbol: ['none', 'none'], label: { show: false },
      lineStyle: { color: '#000', width: 1, type: 'solid' },
      data: [{ xAxis: 0 }, { yAxis: 0 }]
    }
  });
});

var driftMm = driftTicks.map(function (d) { return d * mmPerDrift; });

function labelStyle(margin) {
  return { color: '#000', fontFamily: FONT, fontSize: 21, margin: margin };
}
var nameStyle = { color: '#000', fontFamily: FONT, fontSize: 24 };
var lineStyle = { show: true, onZero: false, lineStyle: { color: AXIS_COLOR, width: 1.5 } };

function dispAxis(grid) {
  return {
    type: 'value', gridIndex: grid, position: 'bottom', min: -120, max: 120, interval: 40,
    name: 'Lateral Displacement (mm)', nameLocation: 'middle', nameGap: 36, nameTextStyle: nameStyle,
    axisLine: lineStyle,
    axisTick: { inside: true, length: 11, lineStyle: { color: AXIS_COLOR, width: 1.2 } },
    minorTick: { show: true, splitNumber: 4, length: 4, lineStyle: { color: AXIS_COLOR, width: 1 } },
    axisLabel: labelStyle(8),
    splitLine: { show: false }
  };
}
function driftAxis(grid) {
  return {
    type: 'value', gridIndex: grid, position: 'top', min: -120, max: 120,
    name: 'Drift (%)', nameLocation: 'middle', nameGap: 28, nameTextStyle: nameStyle,
    axisLine: lineStyle,
    axisTick: { inside: true, length: 11, customValues: driftMm, lineStyle: { color: AXIS_COLOR, width: 1.2 } },
    axisLabel: Object.assign(labelStyle(6), {
      customValues: driftMm,
      formatter: function (v) { return String(Math.round(v / mmPerDrift)); }
    }),
    splitLine: { show: false }
  };
}
function boxAxis(grid, min, max) {
  return {
    type: 'value', gridIndex: grid, position: 'right', min: min, max: max,
    axisLine: lineStyle, axisTick: { show: false }, axisLabel: { show: false }, splitLine: { show: false }
  };
}

var option = {
  animation: false,
  backgroundColor: '#fff',
  grid: [
    { left: 88, top: 61, width: 467, height: 371 },
    { left: 727, top: 60, width: 464, height: 368 }
  ],
  xAxis: [dispAxis(0), driftAxis(0), dispAxis(1), driftAxis(1)],
  yAxis: [
    {
      type: 'value', gridIndex: 0, position: 'left', min: -500, max: 500, interval: 100,
      name: 'Lateral Force (kN)', nameLocation: 'middle', nameGap: 52, nameTextStyle: nameStyle,
      axisLine: lineStyle,
      axisTick: { inside: true, length: 11, lineStyle: { color: AXIS_COLOR, width: 1.2 } },
      minorTick: { show: true, splitNumber: 2, length: 4, lineStyle: { color: AXIS_COLOR, width: 1 } },
      axisLabel: labelStyle(8),
      splitLine: { show: false }
    },
    boxAxis(0, -500, 500),
    {
      type: 'value', gridIndex: 1, position: 'left', min: -550, max: 550,
      name: 'Lateral Force (kN)', nameLocation: 'middle', nameGap: 54, nameTextStyle: nameStyle,
      axisLine: lineStyle,
      axisTick: { inside: true, length: 11, customValues: dForceTicks, lineStyle: { color: AXIS_COLOR, width: 1.2 } },
      axisLabel: Object.assign(labelStyle(8), { customValues: dForceTicks }),
      splitLine: { show: false }
    },
    boxAxis(1, -550, 550),
    {
      type: 'value', gridIndex: 1, position: 'left', offset: 0, min: -550, max: 550,
      axisLine: { show: false, onZero: false },
      axisTick: { inside: true, length: 4, customValues: dForceMinor, lineStyle: { color: AXIS_COLOR, width: 1 } },
      axisLabel: { show: false }, splitLine: { show: false }
    }
  ],
  graphic: [
    { type: 'text', x: 552, y: 236, silent: true, style: { text: 'Push', align: 'right', verticalAlign: 'middle', textAlign: 'right', textVerticalAlign: 'middle', font: '21px "Liberation Serif"', fill: '#000' } },
    { type: 'text', x: 105, y: 270, silent: true, style: { text: 'Pull', align: 'left', verticalAlign: 'middle', textAlign: 'left', textVerticalAlign: 'middle', font: '21px "Liberation Serif"', fill: '#000' } },
    { type: 'text', x: 1182, y: 231, silent: true, style: { text: 'Push', align: 'right', verticalAlign: 'middle', textAlign: 'right', textVerticalAlign: 'middle', font: '21px "Liberation Serif"', fill: '#000' } },
    { type: 'text', x: 747, y: 266, silent: true, style: { text: 'Pull', align: 'left', verticalAlign: 'middle', textAlign: 'left', textVerticalAlign: 'middle', font: '21px "Liberation Serif"', fill: '#000' } },
    { type: 'text', x: 14, y: 478, silent: true, style: { text: '(c)', align: 'left', verticalAlign: 'middle', textAlign: 'left', textVerticalAlign: 'middle', font: '22px "Liberation Serif"', fill: '#000' } },
    { type: 'text', x: 651, y: 477, silent: true, style: { text: '(d)', align: 'left', verticalAlign: 'middle', textAlign: 'left', textVerticalAlign: 'middle', font: '22px "Liberation Serif"', fill: '#000' } }
  ],
  series: series
};

var chart = echarts.init(document.getElementById('chart'), null, { renderer: 'canvas' });
chart.setOption(option);
window.addEventListener('resize', function () { chart.resize(); });
</script>
</body>
</html>
